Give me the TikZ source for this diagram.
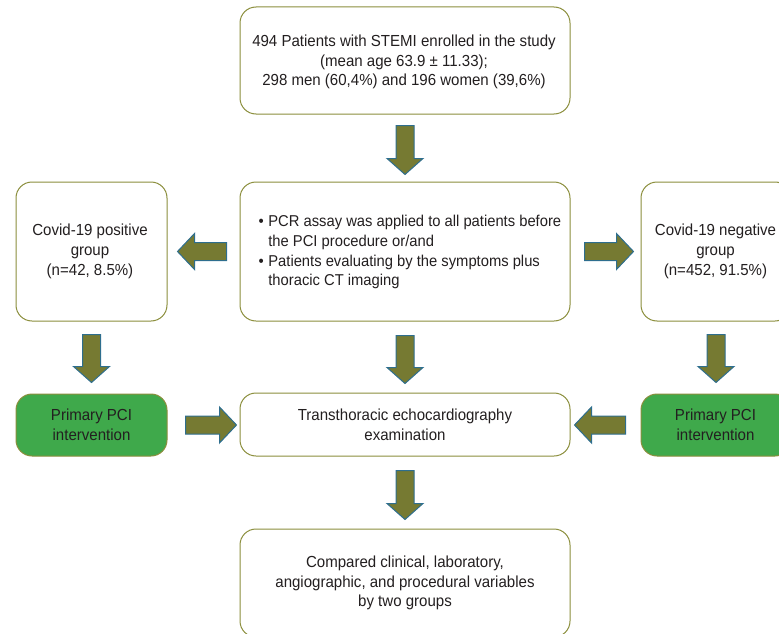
\documentclass[tikz,border=0pt]{standalone}
\usepackage{fontspec}
\setmainfont{Liberation Sans}[FakeStretch=0.94]
\usetikzlibrary{calc}
\definecolor{arrfill}{HTML}{767A32}
\definecolor{arredge}{HTML}{2E6E8E}
\definecolor{boxedge}{HTML}{8B8E3C}
\definecolor{greenfill}{HTML}{3FA94B}
\definecolor{txt}{HTML}{231F20}
\tikzset{
  box/.style={draw=boxedge, line width=1pt, rounded corners=16pt, fill=white, inner sep=0pt},
  gbox/.style={box, fill=greenfill},
  lbl/.style={align=center, text=txt, font=\fontsize{16}{19.7}\selectfont, inner sep=0pt},
  blk/.style={fill=arrfill, draw=arredge, line width=1pt, line join=miter}
}
% down block arrow: from anchor, to anchor, start gap, end gap
\newcommand\vblk[4]{%
  \draw[blk] let \p1=(#1), \p2=(#2) in
  ({\x1-9pt},{\y1-#3pt}) -- ({\x1+9pt},{\y1-#3pt}) -- ({\x1+9pt},{\y2+#4pt+16pt})
  -- ({\x1+18pt},{\y2+#4pt+16pt}) -- ({\x1},{\y2+#4pt}) -- ({\x1-18pt},{\y2+#4pt+16pt})
  -- ({\x1-9pt},{\y2+#4pt+16pt}) -- cycle;}
% horizontal block arrow: from anchor, to anchor, sign (1 right, -1 left), start gap, end gap
\newcommand\hblk[5]{%
  \draw[blk] let \p1=(#1), \p2=(#2) in
  ({\x1+(#3)*#4pt},{\y1+9pt}) -- ({\x2-(#3)*(#5pt+17pt)},{\y1+9pt})
  -- ({\x2-(#3)*(#5pt+17pt)},{\y1+18pt}) -- ({\x2-(#3)*#5pt},{\y1})
  -- ({\x2-(#3)*(#5pt+17pt)},{\y1-18pt}) -- ({\x2-(#3)*(#5pt+17pt)},{\y1-9pt})
  -- ({\x1+(#3)*#4pt},{\y1-9pt}) -- cycle;}
\begin{document}
\begin{tikzpicture}[x=1pt,y=-1pt]
\useasboundingbox (0,0) rectangle (779,634);
\clip (0,0) rectangle (779,634);
% boxes
\node[box, minimum width=330pt, minimum height=107pt] (top) at (405,60.5) {};
\node[box, minimum width=330pt, minimum height=139pt] (mid) at (405,251.5) {};
\node[box, minimum width=151pt, minimum height=139pt] (left) at (91.5,251.5) {};
\node[box, minimum width=150pt, minimum height=139pt] (right) at (716,251.5) {};
\node[gbox, minimum width=151pt, minimum height=62pt] (lgreen) at (91.5,425) {};
\node[gbox, minimum width=150pt, minimum height=62pt] (rgreen) at (716,425) {};
\node[box, minimum width=330pt, minimum height=63pt] (trans) at (405,424.5) {};
\node[box, minimum width=330pt, minimum height=108pt] (bottom) at (405,583) {};
% texts
\node[lbl] (toptxt) at (404,62) {494 Patients with STEMI enrolled in the study\\(mean age 63.9 ± 11.33);\\298 men (60,4\%) and 196 women (39,6\%)};
\node[lbl, align=left, anchor=west, font=\fontsize{15.7}{19.7}\selectfont] (midtxt) at (258.5,252.5) {%
  \begin{tabular}{@{}l@{\hspace{4.5pt}}l@{}}
  • & PCR assay was applied to all patients before\\
    & the PCI procedure or/and\\
  • & Patients evaluating by the symptoms plus\\
    & thoracic CT imaging
  \end{tabular}};
\node[lbl] (lefttxt) at (90,251.5) {Covid-19 positive\\group\\(n=42, 8.5\%)};
\node[lbl] (righttxt) at (715.5,251.5) {Covid-19 negative\\group\\(n=452, 91.5\%)};
\node[lbl] (lgtxt) at (91.5,425) {Primary PCI\\intervention};
\node[lbl] (rgtxt) at (715.5,425) {Primary PCI\\intervention};
\node[lbl] (transtxt) at (405,425) {Transthoracic echocardiography\\examination};
\node[lbl] (bottomtxt) at (405,583) {Compared clinical, laboratory,\\angiographic, and procedural variables\\by two groups};
% arrows
\vblk{top.south}{mid.north}{11}{7}
\vblk{left.south}{lgreen.north}{13}{11}
\vblk{right.south}{rgreen.north}{13}{11}
\vblk{mid.south}{trans.north}{14}{9}
\vblk{trans.south}{bottom.north}{14}{9}
\hblk{mid.west}{left.east}{-1}{13}{10}
\hblk{mid.east}{right.west}{1}{14}{7}
\hblk{lgreen.east}{trans.west}{1}{18}{3}
\hblk{rgreen.west}{trans.east}{-1}{15}{4}
\end{tikzpicture}
\end{document}
